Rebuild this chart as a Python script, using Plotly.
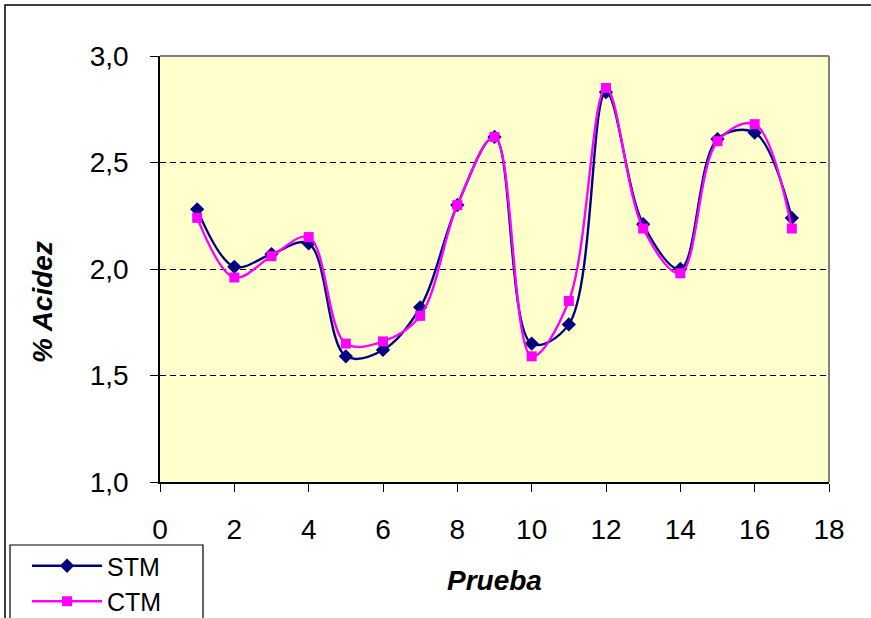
import plotly.graph_objects as go

prueba = list(range(1, 18))
stm = [2.28, 2.01, 2.07, 2.12, 1.59, 1.62, 1.82, 2.30, 2.62, 1.65, 1.74, 2.83, 2.21, 2.00, 2.61, 2.64, 2.24]
ctm = [2.24, 1.96, 2.06, 2.15, 1.65, 1.66, 1.78, 2.30, 2.62, 1.59, 1.85, 2.85, 2.19, 1.98, 2.60, 2.68, 2.19]
x_ticks = list(range(0, 19, 2))
y_ticks = [1.0, 1.5, 2.0, 2.5, 3.0]

W, H = 871, 618
L, R, T, B = 160, 829, 56, 482
pw, ph = R - L, B - T

def px(xp):
    return (xp - L) / pw

def py(yp):
    return (B - yp) / ph

FONT = "Liberation Sans, Arial, sans-serif"

fig = go.Figure()
fig.add_trace(go.Scatter(
    x=prueba, y=stm, name="STM", mode="lines+markers",
    line=dict(color="#000080", width=2.4, shape="spline", smoothing=1.0),
    marker=dict(symbol="diamond", size=11, color="#000080"),
))
fig.add_trace(go.Scatter(
    x=prueba, y=ctm, name="CTM", mode="lines+markers",
    line=dict(color="#FF00FF", width=2.4, shape="spline", smoothing=1.0),
    marker=dict(symbol="square", size=10, color="#FF00FF"),
))

fig.update_layout(
    width=W, height=H,
    margin=dict(l=L, r=W - R, t=T, b=H - B, pad=0, autoexpand=False),
    paper_bgcolor="white",
    plot_bgcolor="#FFFFCC",
    separators=",.",
    font=dict(family=FONT, size=28, color="black"),
    showlegend=True,
    legend=dict(
        x=px(27), y=py(543), xanchor="left", yanchor="top",
        borderwidth=0, bgcolor="rgba(0,0,0,0)",
        font=dict(family=FONT, size=25, color="black"),
        itemwidth=70, tracegroupgap=0,
    ),
    xaxis=dict(
        range=[0, 18], tickvals=x_ticks, ticks="outside", ticklen=8,
        tickcolor="black", showline=True, linecolor="black", linewidth=1.5,
        showgrid=False, zeroline=False, ticklabelstandoff=14,
        tickfont=dict(family=FONT, size=28),
    ),
    yaxis=dict(
        range=[1, 3], tickvals=y_ticks, tickformat=".1f", ticks="outside",
        ticklen=8, tickcolor="black", showline=True, linecolor="black",
        linewidth=1.5, showgrid=True, gridcolor="black", gridwidth=1,
        griddash="6px,4px", zeroline=False, ticklabelstandoff=16,
        tickfont=dict(family=FONT, size=28),
    ),
    shapes=[
        dict(type="line", xref="paper", yref="paper", x0=0, x1=1, y0=1, y1=1,
             line=dict(color="#808080", width=2)),
        dict(type="line", xref="paper", yref="paper", x0=1, x1=1, y0=0, y1=1,
             line=dict(color="#808080", width=2)),
        dict(type="rect", xref="paper", yref="paper",
             x0=px(5), x1=px(900), y0=py(650), y1=py(5),
             line=dict(color="black", width=1.5), fillcolor="rgba(0,0,0,0)"),
        dict(type="rect", xref="paper", yref="paper",
             x0=px(10), x1=px(203), y0=py(650), y1=py(545),
             line=dict(color="black", width=1.2), fillcolor="white"),
    ],
    annotations=[
        dict(text="<b><i>% Acidez</i></b>", xref="paper", yref="paper",
             x=px(42), y=py(302), xanchor="center", yanchor="middle",
             showarrow=False, textangle=-90,
             font=dict(family=FONT, size=28)),
        dict(text="<b><i>Prueba</i></b>", xref="paper", yref="paper",
             x=0.5, y=py(580), xanchor="center", yanchor="middle",
             showarrow=False,
             font=dict(family=FONT, size=28)),
    ],
)

fig.write_html("out.html")
